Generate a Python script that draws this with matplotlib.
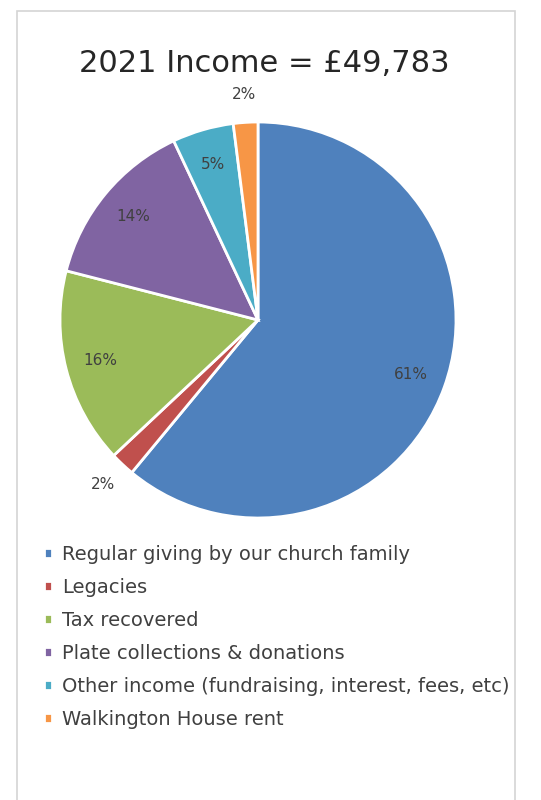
import numpy as np
import matplotlib
matplotlib.use('Agg')
import matplotlib.pyplot as plt
from matplotlib.patches import Rectangle

# Income breakdown
categories = ['Regular giving by our church family', 'Legacies', 'Tax recovered',
              'Plate collections & donations', 'Other income (fundraising, interest, fees, etc)',
              'Walkington House rent']
shares = [61, 2, 16, 14, 5, 2]
colors = ['#4F81BD', '#C0504D', '#9BBB59', '#8064A2', '#4BACC6', '#F79646']
title = '2021 Income = £49,783'

plt.rcParams['font.family'] = ['DejaVu Sans']

fig = plt.figure(figsize=(5.41, 8), dpi=100)
fig.patch.set_facecolor('white')

# light frame round the chart area
fig.patches.append(Rectangle((17 / 541, -0.05), 498 / 541, 1.05 - 11 / 800,
                             transform=fig.transFigure, fill=False,
                             edgecolor='#d4d4d4', linewidth=1.2))

fig.text(264 / 541, 1 - 63 / 800, title, ha='center', va='center',
         fontsize=22, color='#262626')

ax = fig.add_axes([60 / 541, 1 - 518 / 800, 396 / 541, 396 / 800])
wedges, texts, pcts = ax.pie(shares, colors=colors, startangle=90, counterclock=False,
                             autopct='%d%%', pctdistance=0.82,
                             wedgeprops=dict(edgecolor='white', linewidth=2),
                             textprops=dict(fontsize=11, color='#404040'))
ax.set_xlim(-1, 1)
ax.set_ylim(-1, 1)
ax.set_aspect('equal')

# small slices carry their labels just outside the pie
for w, t, v in zip(wedges, pcts, shares):
    if v <= 2:
        ang = np.deg2rad((w.theta1 + w.theta2) / 2)
        t.set_position((1.14 * np.cos(ang), 1.14 * np.sin(ang)))

fig.legend(wedges, categories, loc='upper left', bbox_to_anchor=(44 / 541, 1 - 545 / 800),
           frameon=False, fontsize=14, handlelength=0.4, handleheight=0.4,
           handletextpad=0.55, labelspacing=0.72, borderaxespad=0, borderpad=0,
           labelcolor='#404040')

fig.savefig('out.png', dpi=100, facecolor='white')
